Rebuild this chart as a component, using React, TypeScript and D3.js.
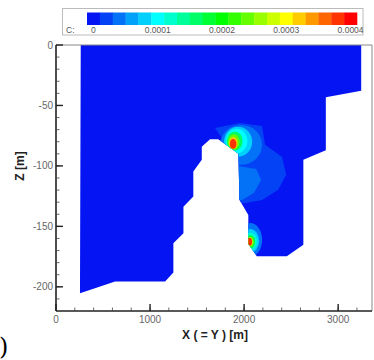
import * as d3 from "d3";

// domain outline (x in m, z in m), clockwise from top-left
const domainX = [263, 3245, 3245, 2869, 2869, 2630, 2630, 2454, 2135, 2045, 2045, 1950, 1940, 1725, 1638, 1550, 1550, 1460, 1460, 1355, 1355, 1248, 1248, 1160, 628, 255];
const domainZ = [0, 0, -37.8, -43.2, -87, -95, -165.3, -174.8, -174.8, -164.5, -140.5, -128, -90, -77.9, -77.9, -84.1, -95, -104.7, -125.4, -133.7, -155.6, -164, -188.2, -195.6, -195.6, -205.3];

// broad low-concentration patches (contour level index, outline)
const patchLevels = [1, 2];
const patchX = [
  [1691, 1957, 2191, 2223, 2404, 2447, 2362, 2191, 2011, 1915, 1851],
  [1936, 2128, 2181, 2106, 1979, 1915],
];
const patchZ = [
  [-68.6, -64.5, -66.9, -82.6, -92.6, -107.4, -119.8, -128.1, -130.6, -130.6, -86.8],
  [-100, -102.5, -111.6, -122.3, -128.1, -128.1],
];

// hot spots: nested contour bands (level, centre x/z, radius x/z in m)
const spotLevels = [2, 4, 5, 8, 12, 16, 19, 2, 4, 6, 9, 13, 19];
const spotX = [1968, 1936, 1920, 1900, 1890, 1885, 1883, 2064, 2064, 2064, 2064, 2064, 2058];
const spotZ = [-82.6, -80, -79.5, -79.5, -80.2, -81, -81.8, -161.2, -162, -162.4, -162.8, -162.8, -162.8];
const spotRX = [223, 150, 115, 85, 62, 45, 35, 128, 96, 74, 53, 37, 27];
const spotRZ = [16.5, 12.4, 10.2, 8, 6.4, 5, 4.1, 14, 9.9, 7.4, 5.4, 4.1, 3.3];

const levels = d3.range(21); // 0 .. 0.0004 in 21 bands
const legendTicks = [0, 5, 10, 15, 20];
const legendLabels = ["0", "0.0001", "0.0002", "0.0003", "0.0004"];

const xTicks = [0, 1000, 2000, 3000];
const zTicks = [0, -50, -100, -150, -200];

const W = 374;
const H = 360;
const left = 56, right = 372, top = 45, bottom = 311;
const font = "Arial, 'Liberation Sans', sans-serif";

export default function App() {
  const x = d3.scaleLinear().domain([0, 3360]).range([left, right]);
  const z = d3.scaleLinear().domain([-220, 0]).range([bottom, top]);
  const color = d3
    .scaleLinear<string>()
    .domain([0, 5, 10, 15, 20])
    .range(["#0514f2", "#00ffff", "#00ff00", "#ffff00", "#ff0000"]);

  const line = d3.line<[number, number]>().x((d) => x(d[0])).y((d) => z(d[1]));
  const domainPath = line(domainX.map((v, i) => [v, domainZ[i]])) + "Z";

  const lb = d3.scaleBand<number>().domain(levels).range([87, 357]);

  const xMinor = d3.range(200, 3360, 200);
  const zMinor = d3.range(-210, 0, 10);

  return (
    <svg width={W} height={H} style={{ position: "absolute", left: 0, top: 0, background: "#fff" }} fontFamily={font}>
      <defs>
        <clipPath id="dom">
          <path d={domainPath} />
        </clipPath>
      </defs>

      {/* legend */}
      <rect x={62.5} y={8.5} width={300.5} height={26.5} fill="#fff" stroke="#bbb" />
      {levels.map((l) => (
        <rect key={l} x={lb(l)} y={12.5} width={lb.bandwidth() + 0.3} height={12.5} fill={color(l)} />
      ))}
      <text x={66} y={33} fontSize={8.5} fill="#555">C:</text>
      {legendTicks.map((l, i) => (
        <text key={l} x={(lb(l) ?? 0) + lb.bandwidth() / 2} y={33} fontSize={8.5} fill="#555" textAnchor="middle">
          {legendLabels[i]}
        </text>
      ))}

      {/* field */}
      <path d={domainPath} fill={color(0)} />
      <g clipPath="url(#dom)">
        {patchLevels.map((l, i) => (
          <path key={i} d={line(patchX[i].map((v, j) => [v, patchZ[i][j]])) + "Z"} fill={color(l)} />
        ))}
        {spotLevels.map((l, i) => (
          <ellipse
            key={i}
            cx={x(spotX[i])}
            cy={z(spotZ[i])}
            rx={x(spotRX[i]) - x(0)}
            ry={z(-spotRZ[i]) - z(0)}
            fill={color(l)}
          />
        ))}
      </g>

      {/* frame */}
      <line x1={left} x2={right} y1={top} y2={top} stroke="#888" strokeWidth={1} />
      <line x1={right} x2={right} y1={top} y2={bottom} stroke="#888" strokeWidth={1} />
      <line x1={left} x2={left} y1={top} y2={bottom} stroke="#222" strokeWidth={1.6} />
      <line x1={left} x2={right} y1={bottom} y2={bottom} stroke="#222" strokeWidth={1.6} />

      {/* z axis */}
      {zMinor.map((t) => (
        <line key={t} x1={left} x2={left + 3.5} y1={z(t)} y2={z(t)} stroke="#444" strokeWidth={0.8} />
      ))}
      {zTicks.map((t) => (
        <g key={t}>
          <line x1={left} x2={left + 7} y1={z(t)} y2={z(t)} stroke="#222" strokeWidth={1.4} />
          <text x={53} y={z(t)} dy="0.35em" fontSize={10} fill="#666" textAnchor="end">
            {t}
          </text>
        </g>
      ))}

      {/* x axis */}
      {xMinor.map((t) => (
        <line key={t} x1={x(t)} x2={x(t)} y1={bottom} y2={bottom - 3.5} stroke="#444" strokeWidth={0.8} />
      ))}
      {xTicks.map((t) => (
        <g key={t}>
          <line x1={x(t)} x2={x(t)} y1={bottom} y2={bottom - 7} stroke="#222" strokeWidth={1.4} />
          <text x={x(t)} y={323} fontSize={10} fill="#666" textAnchor="middle">
            {t}
          </text>
        </g>
      ))}

      <text x={215} y={339} fontSize={12} fontWeight="bold" fill="#222" textAnchor="middle">
        X ( = Y ) [m]
      </text>
      <text transform="translate(24,166) rotate(-90)" fontSize={12} fontWeight="bold" fill="#222" textAnchor="middle">
        Z [m]
      </text>
      <text x={-1} y={355} fontSize={24} fontFamily="'DejaVu Serif', serif" fill="#000">
        )
      </text>
    </svg>
  );
}
